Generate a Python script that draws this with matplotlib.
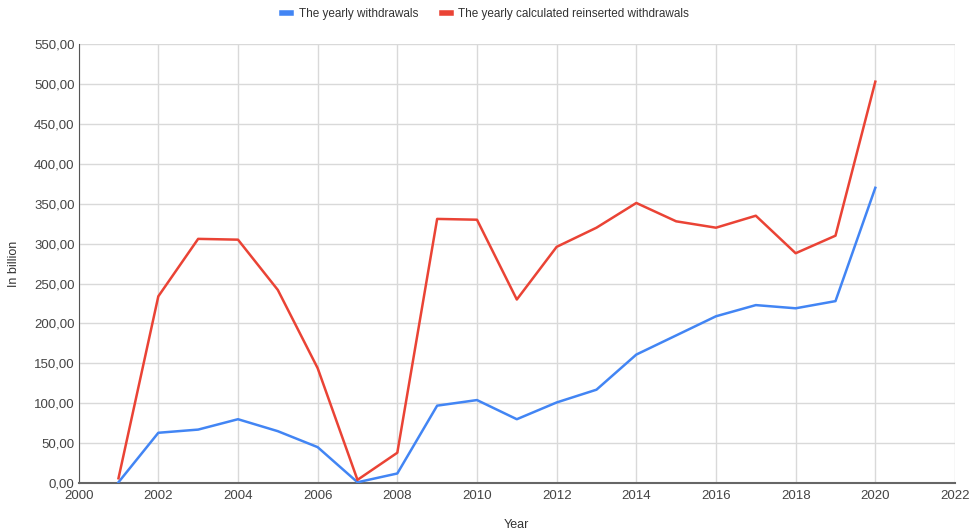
import matplotlib
matplotlib.use('Agg')
import matplotlib.pyplot as plt
from matplotlib.ticker import FuncFormatter, MultipleLocator

plt.rcParams['font.family'] = ['Liberation Sans', 'DejaVu Sans']

# data
years = [2001, 2002, 2003, 2004, 2005, 2006, 2007, 2008, 2009, 2010,
         2011, 2012, 2013, 2014, 2015, 2016, 2017, 2018, 2019, 2020]
withdrawals = [1, 63, 67, 80, 65, 45, 1, 12, 97, 104,
               80, 101, 117, 161, 185, 209, 223, 219, 228, 370]
reinserted = [6, 234, 306, 305, 242, 144, 4, 38, 331, 330,
              230, 296, 320, 351, 328, 320, 335, 288, 310, 503]

label_blue = 'The yearly withdrawals'
label_red = 'The yearly calculated reinserted withdrawals'

fig = plt.figure(figsize=(9.71, 5.32), dpi=100)
ax = fig.add_axes([0.081, 0.092, 0.9025, 0.825])

ax.plot(years, withdrawals, color='#4285F4', lw=1.8, label=label_blue, zorder=3)
ax.plot(years, reinserted, color='#EA4335', lw=1.8, label=label_red, zorder=3)

ax.set_xlim(2000, 2022)
ax.set_ylim(0, 550)
ax.xaxis.set_major_locator(MultipleLocator(2))
ax.yaxis.set_major_locator(MultipleLocator(50))
ax.yaxis.set_major_formatter(FuncFormatter(lambda v, p: f'{v:.2f}'.replace('.', ',')))

ax.grid(True, color='#d9d9d9', lw=1)
ax.set_axisbelow(True)
for s in ['top', 'right']:
    ax.spines[s].set_visible(False)
ax.spines['left'].set_color('#555555')
ax.spines['bottom'].set_color('#666666')
ax.spines['bottom'].set_linewidth(1.5)
ax.tick_params(length=0, labelsize=9.5, colors='#444444', pad=3)
ax.tick_params(axis='x', pad=5)

ax.set_xlabel('Year', fontsize=9, color='#333333', labelpad=12)
ax.set_ylabel('In billion', fontsize=9, color='#333333', labelpad=10)

fig.legend(loc='upper center', bbox_to_anchor=(0.5, 1.005), ncol=2, frameon=False,
           fontsize=8.5, handlelength=0.8, handletextpad=0.6, columnspacing=2.0,
           labelcolor='#333333')
for h in fig.legends[0].get_lines():
    h.set_linewidth(4)

fig.savefig('out.png', dpi=100)
